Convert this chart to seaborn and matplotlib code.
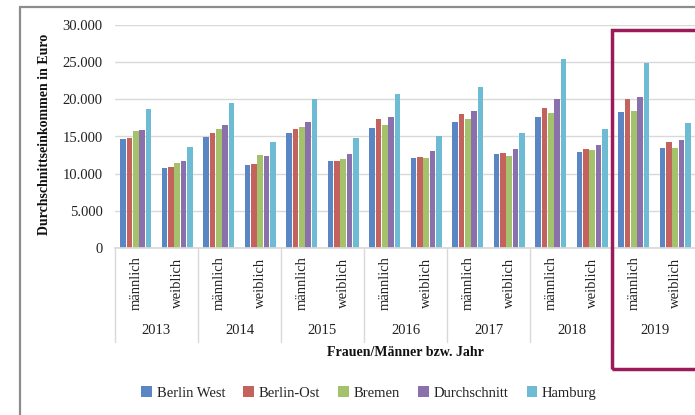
import numpy as np
import pandas as pd
import matplotlib
matplotlib.use('Agg')
import matplotlib.pyplot as plt
import seaborn as sns
from matplotlib.lines import Line2D
from matplotlib.patches import Rectangle

# Daten (Euro)
jahre = ['2013', '2014', '2015', '2016', '2017', '2018', '2019']
geschlecht = ['männlich', 'weiblich']
regionen = ['Berlin West', 'Berlin-Ost', 'Bremen', 'Durchschnitt', 'Hamburg']

berlin_west = [14600, 10800, 14950, 11100, 15500, 11700, 16200, 12060, 16950, 12600, 17670, 12960, 18250, 13500]
berlin_ost = [14800, 10950, 15500, 11300, 16050, 11700, 17300, 12240, 18070, 12780, 18900, 13300, 20100, 14260]
bremen = [15700, 11500, 16000, 12550, 16300, 12000, 16600, 12060, 17300, 12400, 18200, 13200, 18400, 13500]
durchschnitt = [15850, 11700, 16600, 12400, 16950, 12600, 17650, 13000, 18400, 13300, 20000, 13900, 20350, 14570]
hamburg = [18700, 13650, 19450, 14250, 20000, 14800, 20700, 15100, 21600, 15500, 25400, 16050, 24900, 16770]

farben = ['#5b86c4', '#c4625e', '#a3c26b', '#8a71ab', '#6dbcd3']

gruppen = [f'{j} {g}' for j in jahre for g in geschlecht]
werte = {'Berlin West': berlin_west, 'Berlin-Ost': berlin_ost, 'Bremen': bremen,
         'Durchschnitt': durchschnitt, 'Hamburg': hamburg}
df = pd.DataFrame([
    {'Gruppe': gr, 'Region': reg, 'Wert': werte[reg][i]}
    for reg in regionen for i, gr in enumerate(gruppen)
])

sns.set_theme(style='white')
plt.rcParams['font.family'] = ['Liberation Serif', 'DejaVu Serif']

W, H = 695, 415
fig = plt.figure(figsize=(W / 100, H / 100), dpi=100)
fig.patch.set_facecolor('white')
ax = fig.add_axes([115 / W, 1 - 248 / H, 581 / W, 223 / H])

sns.barplot(data=df, x='Gruppe', y='Wert', hue='Region', order=gruppen,
            hue_order=regionen, palette=farben, width=0.76, gap=0.12,
            saturation=1, linewidth=0, ax=ax)

ax.set_ylim(0, 30000)
ax.set_xlim(-0.5, len(gruppen) - 0.5)
ax.set_yticks(np.arange(0, 30001, 5000))
ax.set_yticklabels([f'{v:,.0f}'.replace(',', '.') for v in np.arange(0, 30001, 5000)],
                   fontsize=10.5, color='#222222')
ax.tick_params(axis='y', length=0, pad=9)
ax.yaxis.grid(True, color='#d9d9d9', lw=1)
ax.set_axisbelow(True)
for s in ['left', 'right', 'top']:
    ax.spines[s].set_visible(False)
ax.spines['bottom'].set_color('#d9d9d9')

ax.set_xticks(range(len(gruppen)))
ax.set_xticklabels([])
ax.tick_params(axis='x', length=0)
ax.set_xlabel('')
ax.set_ylabel('')

trans = ax.get_xaxis_transform()
for i, gr in enumerate(gruppen):
    ax.text(i, -0.155, gr.split(' ')[1], rotation=90, ha='center', va='center',
            fontsize=10.5, color='#222222', transform=trans)
for k, j in enumerate(jahre):
    ax.text(2 * k + 0.5, -0.37, j, ha='center', va='center', fontsize=10.5,
            color='#222222', transform=trans)
for k in range(len(jahre) + 1):
    ax.plot([2 * k - 0.5, 2 * k - 0.5], [0, -0.42], color='#d9d9d9', lw=1,
            transform=trans, clip_on=False)

fig.text(405 / W, 1 - 352 / H, 'Frauen/Männer bzw. Jahr', ha='center', va='center',
         fontsize=10, fontweight='bold', color='#111111')
fig.text(45 / W, 1 - 134 / H, 'Durchschnittseinkommen in Euro', rotation=90,
         ha='center', va='center', fontsize=10, fontweight='bold', color='#111111')

handles, labels = ax.get_legend_handles_labels()
ax.get_legend().remove()
fig.legend(handles, labels, loc='center', bbox_to_anchor=(369 / W, 1 - 393 / H),
           ncol=5, frameon=False, fontsize=10.5, handlelength=0.75, handleheight=0.75,
           handletextpad=0.3, columnspacing=1.25, labelcolor='#222222')

# Rahmen des Screenshots
fig.add_artist(Line2D([20 / W, 20 / W], [0, 1 - 7 / H], transform=fig.transFigure,
                      color='#8c8c8c', lw=1.6))
fig.add_artist(Line2D([20 / W, 1], [1 - 7 / H, 1 - 7 / H], transform=fig.transFigure,
                      color='#8c8c8c', lw=1.6))
# Markierung 2019
fig.add_artist(Rectangle((612 / W, 1 - 369 / H), 120 / W, 339 / H,
                         transform=fig.transFigure, fill=False,
                         edgecolor='#9b1a5a', lw=2.5))

fig.savefig('out.png', dpi=100)
